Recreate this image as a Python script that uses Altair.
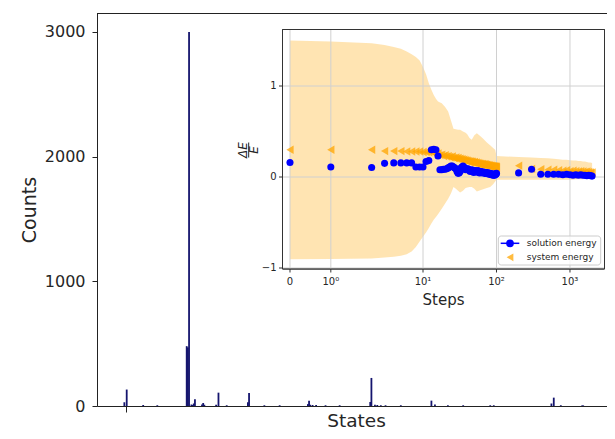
import altair as alt
import pandas as pd

# ---------------- main histogram (state index, counts) ----------------
states = [-1, 1, 15, 27, 52, 53, 54, 56, 57, 58, 59, 65, 66, 67, 77, 79, 86, 104, 105,
          118, 131, 155, 156, 157, 159, 162, 170, 182, 208, 209, 212, 214, 217, 221,
          234, 260, 263, 274, 287, 310, 313, 362, 364, 370, 388, 389]
counts = [30, 132, 8, 6, 480, 470, 3000, 12, 8, 20, 54, 12, 24, 10, 10, 107, 6, 30, 105,
          6, 6, 15, 43, 10, 8, 8, 6, 6, 32, 225, 10, 8, 6, 6,
          6, 43, 12, 6, 6, 6, 6, 20, 67, 6, 5, 5]
count_ticks = [0, 1000, 2000, 3000]

# ---------------- inset: relative energy deviation vs steps ----------------
steps = list(range(0, 101)) + list(range(200, 2001, 100))
solution = [
    0.16, 0.11, 0.105, 0.15, 0.155, 0.155, 0.155, 0.155, 0.11, 0.11,
    0.11, 0.17, 0.18, 0.30, 0.305, 0.30, 0.23, 0.08, 0.08, 0.085,
    0.085, 0.09, 0.10, 0.11, 0.12, 0.12, 0.11, 0.10, 0.09, 0.06,
    0.04, 0.045, 0.06, 0.10, 0.11, 0.12, 0.11, 0.09, 0.08, 0.09,
    0.085, 0.09, 0.08, 0.07, 0.06, 0.07, 0.08, 0.075, 0.06, 0.05,
    0.06, 0.07, 0.065, 0.06, 0.055, 0.06, 0.07, 0.06, 0.05, 0.045,
    0.05, 0.055, 0.06, 0.055, 0.05, 0.045, 0.05, 0.055, 0.05, 0.045,
    0.04, 0.045, 0.05, 0.045, 0.04, 0.035, 0.04, 0.045, 0.04, 0.035,
    0.03, 0.035, 0.04, 0.035, 0.03, 0.025, 0.03, 0.035, 0.03, 0.025,
    0.02, 0.025, 0.03, 0.025, 0.02, 0.025, 0.03, 0.035, 0.03, 0.035,
    0.04,
    0.045, 0.085, 0.03, 0.03, 0.03, 0.03, 0.025, 0.03, 0.025, 0.02,
    0.025, 0.02, 0.025, 0.02, 0.02, 0.015, 0.02, 0.015, 0.01]
system = [
    0.30, 0.30, 0.30, 0.285, 0.285, 0.285, 0.28, 0.28, 0.28, 0.28,
    0.275, 0.275, 0.27, 0.28, 0.26, 0.25, 0.26, 0.24, 0.245, 0.23,
    0.24, 0.225, 0.23, 0.22, 0.215, 0.225, 0.21, 0.205, 0.215, 0.20,
    0.21, 0.195, 0.20, 0.19, 0.195, 0.185, 0.19, 0.18, 0.185, 0.175,
    0.18, 0.17, 0.175, 0.165, 0.17, 0.16, 0.17, 0.165, 0.155, 0.16,
    0.165, 0.155, 0.15, 0.16, 0.15, 0.145, 0.155, 0.145, 0.14, 0.15,
    0.14, 0.145, 0.135, 0.14, 0.145, 0.135, 0.13, 0.14, 0.135, 0.13,
    0.14, 0.13, 0.125, 0.135, 0.13, 0.125, 0.13, 0.12, 0.125, 0.13,
    0.12, 0.125, 0.115, 0.12, 0.125, 0.115, 0.12, 0.11, 0.12, 0.115,
    0.11, 0.12, 0.11, 0.115, 0.105, 0.115, 0.11, 0.105, 0.115, 0.11,
    0.105,
    0.125, 0.09, 0.085, 0.08, 0.08, 0.075, 0.07, 0.075, 0.065, 0.07,
    0.065, 0.06, 0.065, 0.06, 0.055, 0.06, 0.055, 0.05, 0.05]

band_steps = [0, 1, 2, 3, 4, 5, 6, 7, 8, 9, 10, 11, 12, 13, 14, 15, 16,
              18, 20, 22, 24, 26, 28, 30, 32,
              35, 38, 40, 43, 46, 50, 54,
              60, 66, 74, 82, 90, 96, 100,
              200, 300, 400, 500, 600, 700, 800, 900, 1000, 1100, 1200, 1300,
              1400, 1500, 1600, 1700, 1800, 1900, 2000]
band_upper = [1.50, 1.49, 1.47, 1.45, 1.43, 1.41, 1.38, 1.35, 1.32, 1.28, 1.21, 1.13, 1.03,
              0.96, 0.90, 0.86, 0.83,
              0.81, 0.77, 0.72, 0.62, 0.53, 0.525, 0.52, 0.52,
              0.50, 0.485, 0.47, 0.43, 0.41, 0.46, 0.48,
              0.45, 0.42, 0.38, 0.35, 0.32, 0.30, 0.23,
              0.22, 0.215, 0.21, 0.205, 0.20, 0.195, 0.19, 0.19, 0.185, 0.18, 0.18,
              0.175, 0.175, 0.17, 0.17, 0.165, 0.16, 0.16, 0.155]
band_lower = [-0.905, -0.90, -0.895, -0.885, -0.875, -0.865, -0.85, -0.82, -0.77, -0.71,
              -0.656, -0.61, -0.56, -0.51, -0.47, -0.44, -0.41,
              -0.35, -0.29, -0.24, -0.18, -0.11, -0.13, -0.15, -0.17,
              -0.15, -0.12, -0.115, -0.11, -0.11, -0.13, -0.16,
              -0.145, -0.135, -0.12, -0.11, -0.08, -0.05, -0.03,
              -0.03, -0.03, -0.03, -0.03, -0.03, -0.03, -0.03, -0.03, -0.03, -0.03,
              -0.025, -0.025, -0.025, -0.025, -0.02, -0.02, -0.02, -0.02, -0.02]

xtick_steps = [0, 1, 10, 100, 1000]
xtick_labels = ["0", "10\u2070", "10\u00b9", "10\u00b2", "10\u00b3"]
ytick_vals = [-1, 0, 1]
ytick_labels = ["\u22121", "0", "1"]

# ---------------- layout constants (pixels within the main plot area) ----------------
W, H = 510, 393
IX0, IX1 = 185.5, 507.5
IY0, IY1 = 16.5, 256.0
TXT = "#262626"
FONT = "DejaVu Sans"

# matplotlib-like symlog (base 10, linthresh 2, linscale 1)
SYMLOG = "datum.step <= 2 ? datum.step * 10 / 9 : 2 * (10 / 9 + log(datum.step / 2) / LN10)"

one = alt.Data(values=[{}])

# ---------------- main layer ----------------
hist = pd.DataFrame({"state": states, "count": counts})
bars = alt.Chart(hist).mark_bar(orient="vertical", size=1.8, color="#15156e").encode(
    x=alt.X("state:Q",
            scale=alt.Scale(domain=[-20, 405], nice=False, zero=False),
            axis=alt.Axis(values=[0], labels=False, tickSize=6, title="States",
                          titleFontSize=18.5, titleFontWeight="normal", titleColor=TXT,
                          titleBaseline="alphabetic", titleY=20.5, titleX=259,
                          grid=False, domainColor="#222", tickColor="#222")),
    y=alt.Y("count:Q",
            scale=alt.Scale(domain=[0, 3152], nice=False),
            axis=alt.Axis(values=count_ticks, format="d", tickSize=5, labelPadding=7,
                          labelFontSize=16, labelColor=TXT, title="Counts",
                          titleFontSize=19, titleFontWeight="normal", titleColor=TXT,
                          titlePadding=5, grid=False, domainColor="#222",
                          tickColor="#222")),
)
top_border = alt.Chart(one).mark_rule(color="#222", strokeWidth=1).encode(
    x=alt.value(0), x2=alt.value(W), y=alt.value(0.5))
main = alt.layer(bars, top_border)

# ---------------- inset layer ----------------
xsc = alt.Scale(domain=[-0.204, 8.56], range=[IX0, IX1], nice=False, zero=False)
ysc = alt.Scale(domain=[-1.011, 1.621], range=[IY1, IY0], nice=False, zero=False)

pts = pd.DataFrame({"step": steps, "solution": solution, "system": system})
band = pd.DataFrame({"step": band_steps, "upper": band_upper, "lower": band_lower})
xt = pd.DataFrame({"step": xtick_steps, "label": xtick_labels})
yt = pd.DataFrame({"v": ytick_vals, "label": ytick_labels})

frame = alt.Chart(one).mark_rect(fill="white", stroke="#333", strokeWidth=1).encode(
    x=alt.value(IX0), x2=alt.value(IX1), y=alt.value(IY0), y2=alt.value(IY1))

band_l = alt.Chart(band).transform_calculate(pos=SYMLOG).mark_area(
    color="orange", opacity=0.3, orient="vertical").encode(
    x=alt.X("pos:Q", scale=xsc, axis=None),
    y=alt.Y("upper:Q", scale=ysc, axis=None),
    y2="lower:Q")

xgrid = alt.Chart(xt).transform_calculate(pos=SYMLOG).mark_rule(
    color="#d0d0d0", strokeWidth=1).encode(
    x=alt.X("pos:Q", scale=xsc, axis=None), y=alt.value(IY0), y2=alt.value(IY1))
ygrid = alt.Chart(yt).mark_rule(color="#d0d0d0", strokeWidth=1).encode(
    y=alt.Y("v:Q", scale=ysc, axis=None), x=alt.value(IX0), x2=alt.value(IX1))

sys_pts = alt.Chart(pts).transform_calculate(pos=SYMLOG).mark_point(
    shape="triangle-left", filled=True, color="orange", opacity=0.75, size=70).encode(
    x=alt.X("pos:Q", scale=xsc, axis=None),
    y=alt.Y("system:Q", scale=ysc, axis=None))
sol_pts = alt.Chart(pts).transform_calculate(pos=SYMLOG).mark_circle(
    color="blue", opacity=1, size=50).encode(
    x=alt.X("pos:Q", scale=xsc, axis=None),
    y=alt.Y("solution:Q", scale=ysc, axis=None))

frame_line = alt.Chart(one).mark_rect(fill=None, stroke="#333", strokeWidth=1).encode(
    x=alt.value(IX0), x2=alt.value(IX1), y=alt.value(IY0), y2=alt.value(IY1))

xticks = alt.Chart(xt).transform_calculate(pos=SYMLOG).mark_rule(
    color="#333", strokeWidth=1).encode(
    x=alt.X("pos:Q", scale=xsc, axis=None), y=alt.value(IY1), y2=alt.value(IY1 + 3.5))
xlabels = alt.Chart(xt).transform_calculate(pos=SYMLOG).mark_text(
    fontSize=10, baseline="top", align="center", color=TXT).encode(
    x=alt.X("pos:Q", scale=xsc, axis=None), y=alt.value(IY1 + 8), text="label:N")
yticks = alt.Chart(yt).mark_rule(color="#333", strokeWidth=1).encode(
    y=alt.Y("v:Q", scale=ysc, axis=None), x=alt.value(IX0 - 3.5), x2=alt.value(IX0))
ylabels = alt.Chart(yt).mark_text(
    fontSize=10, baseline="middle", align="right", color=TXT).encode(
    y=alt.Y("v:Q", scale=ysc, axis=None), x=alt.value(IX0 - 6), text="label:N")

steps_title = alt.Chart(one).mark_text(text="Steps", fontSize=15, color=TXT).encode(
    x=alt.value((IX0 + IX1) / 2), y=alt.value(287))
num = alt.Chart(one).mark_text(text="\u0394E", fontSize=12, angle=270, fontStyle="italic",
                               color=TXT).encode(x=alt.value(146.0), y=alt.value(137))
den = alt.Chart(one).mark_text(text="E", fontSize=12, angle=270, fontStyle="italic",
                               color=TXT).encode(x=alt.value(157.2), y=alt.value(137))
fbar = alt.Chart(one).mark_rule(color=TXT, strokeWidth=1).encode(
    x=alt.value(151.7), y=alt.value(129.5), y2=alt.value(144.5))

# legend
leg_box = alt.Chart(one).mark_rect(fill="white", fillOpacity=0.8, stroke="#cccccc",
                                   strokeWidth=1, cornerRadius=3).encode(
    x=alt.value(401.3), x2=alt.value(503.7), y=alt.value(223), y2=alt.value(252))
leg_line = alt.Chart(one).mark_rule(color="blue", strokeWidth=1.5).encode(
    x=alt.value(403.7), x2=alt.value(422.3), y=alt.value(230.3))
leg_c = alt.Chart(one).mark_circle(color="blue", opacity=1, size=60).encode(
    x=alt.value(413), y=alt.value(230.3))
leg_t = alt.Chart(one).mark_point(shape="triangle-left", filled=True, color="orange",
                                  opacity=0.75, size=60).encode(
    x=alt.value(413), y=alt.value(244.3))
leg_txt1 = alt.Chart(one).mark_text(text="solution energy", fontSize=9, align="left",
                                    baseline="middle", color=TXT).encode(
    x=alt.value(429.7), y=alt.value(230.3))
leg_txt2 = alt.Chart(one).mark_text(text="system energy", fontSize=9, align="left",
                                    baseline="middle", color=TXT).encode(
    x=alt.value(429.7), y=alt.value(244.3))

inset = alt.layer(frame, band_l, xgrid, ygrid, sys_pts, sol_pts, frame_line,
                  xticks, xlabels, yticks, ylabels, steps_title, num, den, fbar,
                  leg_box, leg_line, leg_c, leg_t, leg_txt1, leg_txt2)

chart = alt.layer(main, inset).resolve_scale(
    x="independent", y="independent"
).properties(
    width=W, height=H,
    padding={"left": 89, "top": 5, "right": 0, "bottom": 25},
    autosize=alt.AutoSizeParams(type="none"),
).configure_view(stroke="transparent", strokeWidth=0).configure_axis(
    labelFont=FONT, titleFont=FONT
).configure_text(font=FONT)

chart.save("out.html", embed_options={"renderer": "svg", "actions": False})
